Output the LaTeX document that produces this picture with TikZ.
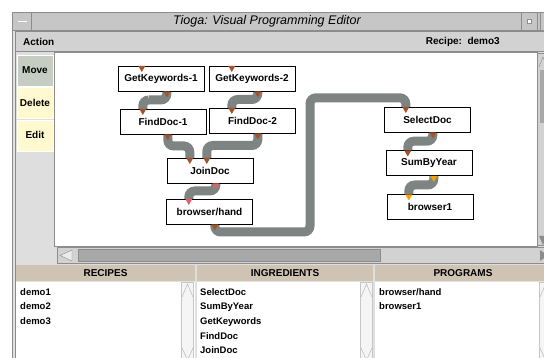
\documentclass[tikz,border=0pt]{standalone}
\usepackage{fontspec}
\setmainfont{Liberation Sans}
\usetikzlibrary{calc,positioning,shapes.geometric}
\definecolor{tiogapipe}{RGB}{126,132,130}
\definecolor{tiogabrown}{RGB}{164,84,44}
\definecolor{tiogapink}{RGB}{224,98,104}
\definecolor{tiogaorange}{RGB}{244,164,0}
\definecolor{tiogachrome}{RGB}{198,198,198}
\definecolor{tiogamenu}{RGB}{210,210,210}
\definecolor{tiogapanel}{RGB}{222,222,222}
\definecolor{tiogamove}{RGB}{197,205,194}
\definecolor{tiogayellow}{RGB}{255,249,208}
\definecolor{tiogatan}{RGB}{207,195,180}
\definecolor{tiogathumb}{RGB}{168,168,168}
\definecolor{tiogaedge}{RGB}{140,140,140}
\pgfdeclarelayer{chrome}
\pgfdeclarelayer{pipes}
\pgfsetlayers{chrome,pipes,main}
\tikzset{
  opbox/.style={draw=black, fill=white, minimum width=86pt, minimum height=25pt,
    inner sep=0pt, font=\bfseries\fontsize{10}{12}\selectfont},
  portmark/.style={regular polygon, regular polygon sides=3, shape border rotate=180,
    minimum size=8pt, inner sep=0pt, fill=#1, anchor=north},
  portmark/.default=tiogabrown,
  pipe/.style={draw=tiogapipe, line width=9pt, rounded corners=6pt},
  bendpipe/.style={to path={|- ($(\tikztostart)!.5!(\tikztotarget)$) -| (\tikztotarget)}},
  toolbtn/.style={draw=white, minimum width=36pt, minimum height=31pt, inner sep=0pt,
    font=\bfseries\fontsize{10}{12}\selectfont},
  listhead/.style={fill=tiogatan, minimum height=16pt, inner sep=0pt,
    font=\bfseries\fontsize{10}{12}\selectfont},
  listitem/.style={inner xsep=0pt, inner ysep=2pt, text height=8pt, text depth=2.2pt,
    anchor=north west, font=\bfseries\fontsize{9.5}{11}\selectfont},
  menulabel/.style={inner sep=0pt, font=\bfseries\fontsize{10}{12}\selectfont}
}

\begin{document}
\begin{tikzpicture}[x=1pt, y=-1pt]
  \useasboundingbox (0,0) rectangle (544,358);

  % window chrome
  \begin{pgfonlayer}{chrome}
    \fill[white] (0,0) rectangle (544,358);
    \fill[tiogapanel] (12,12) rectangle (544,358);
    \draw[tiogaedge] (12.5,12) -- (12.5,358) (15.5,31) -- (15.5,358);
    \draw[tiogaedge, fill=tiogachrome] (12.5,12.5) rectangle (550,30.5);
    \draw[tiogaedge] (31.5,12.5) -- (31.5,30.5) (521.5,12.5) -- (521.5,30.5)
      (537.5,12.5) -- (537.5,30.5) (540.5,12.5) -- (540.5,30.5);
    \draw[white, line width=1.5pt] (18,21.5) -- (27,21.5);
    \draw[tiogaedge, fill=white] (527.5,19.5) rectangle (531.5,23.5);
    \draw[tiogaedge, fill=tiogamenu] (15.5,31.5) rectangle (550,51.5);
    \draw[tiogaedge, fill=white] (54.5,52.5) rectangle (537.5,246);
    % scrollbars of the canvas
    \draw[tiogaedge, fill=tiogamenu] (537.5,53.5) rectangle (550,245.5);
    \draw[tiogaedge] (539,67) -- (543,57) -- (547,67);
    \fill[tiogathumb] (540,70) rectangle (550,123);
    \fill[tiogaedge] (539,236) -- (543,245) -- (547,236) -- cycle;
    \draw[tiogaedge, fill=tiogamenu] (57.5,247.5) rectangle (550,263.5);
    \draw[tiogaedge, fill=white!92!black] (72,250) -- (60,255.5) -- (72,261) -- cycle;
    \draw[tiogaedge, fill=tiogathumb] (78.5,249.5) rectangle (380.5,261.5);
    \fill[tiogaedge] (540,250) -- (548,255.5) -- (540,261) -- cycle;
    % list panes
    \fill[white] (16,282) rectangle (195,358) (197,282) rectangle (373,358)
      (375,282) rectangle (550,358);
    \foreach \sx in {181.5,360.5,539.5} {
      \draw[tiogaedge!50, fill=white!96!black] (\sx,282) rectangle ++(12,80);
      \draw[tiogaedge!70] (\sx+0.5,297) -- (\sx+6,284) -- (\sx+11.5,297);
      \draw[tiogaedge!70] (\sx+0.5,348) -- (\sx+6,360) -- (\sx+11.5,348);
    }
  \end{pgfonlayer}

  \node[font=\itshape\fontsize{12.5}{14}\selectfont, inner sep=0pt] (title) at (267,21)
    {Tioga: Visual Programming Editor};
  \node[menulabel, anchor=west] (action) at (23,42) {Action};
  \node[menulabel, anchor=east] (recipe) at (500,42) {Recipe:\ \ demo3};

  \node[toolbtn, fill=tiogamove] (move) at (35,70.5) {Move};
  \node[toolbtn, fill=tiogayellow, below=1pt of move] (delete) {Delete};
  \node[toolbtn, fill=tiogayellow, below=1pt of delete] (edit) {Edit};

  % program graph
  \node[opbox] (gk1) at (161,78.5) {GetKeywords-1};
  \node[opbox] (gk2) at (252,78.5) {GetKeywords-2};
  \node[opbox] (fd1) at (163,121.5) {FindDoc-1};
  \node[opbox] (fd2) at (252.5,120.5) {FindDoc-2};
  \node[opbox] (jd) at (210,170.5) {JoinDoc};
  \node[opbox] (bh) at (209.5,211.5) {browser/hand};
  \node[opbox] (sd) at (427.5,119.5) {SelectDoc};
  \node[opbox] (sy) at (429,163) {SumByYear};
  \node[opbox] (b1) at (430,207) {browser1};

  \node[portmark] (gk1in) at ([xshift=24pt]gk1.north west) {};
  \node[portmark] (gk1out) at ([xshift=49pt]gk1.south west) {};
  \node[portmark] (gk2in) at ([xshift=23pt]gk2.north west) {};
  \node[portmark] (gk2out) at ([xshift=49pt]gk2.south west) {};
  \node[portmark] (fd1in) at ([xshift=23pt]fd1.north west) {};
  \node[portmark] (fd1out) at ([xshift=48pt]fd1.south west) {};
  \node[portmark] (fd2in) at ([xshift=22.5pt]fd2.north west) {};
  \node[portmark] (fd2out) at ([xshift=48.5pt]fd2.south west) {};
  \node[portmark] (jdinA) at ([xshift=23pt]jd.north west) {};
  \node[portmark] (jdinB) at ([xshift=40pt]jd.north west) {};
  \node[portmark=tiogapink] (jdout) at ([xshift=49pt]jd.south west) {};
  \node[portmark=tiogapink] (bhin) at ([xshift=22.5pt]bh.north west) {};
  \node[portmark] (bhout) at ([xshift=48.5pt]bh.south west) {};
  \node[portmark] (sdin) at ([xshift=21.5pt]sd.north west) {};
  \node[portmark] (sdout) at ([xshift=48.5pt]sd.south west) {};
  \node[portmark] (syin) at ([xshift=22pt]sy.north west) {};
  \node[portmark=tiogaorange] (syout) at ([xshift=48pt]sy.south west) {};
  \node[portmark=tiogaorange] (b1in) at ([xshift=22pt]b1.north west) {};

  \begin{pgfonlayer}{pipes}
    \draw[pipe] (gk1out.north) to[bendpipe] (fd1in.north);
    \draw[pipe] (gk2out.north) to[bendpipe] (fd2in.north);
    \draw[pipe] (fd1out.north) to[bendpipe] (jdinA.north);
    \draw[pipe] (fd2out.north) to[bendpipe] (jdinB.north);
    \draw[pipe] (jdout.north) to[bendpipe] (bhin.north);
    \draw[pipe] (bhout.north) |- (310,232) |- ([yshift=9pt]sdin.north) -- (sdin.north);
    \draw[pipe] (sdout.north) to[bendpipe] (syin.north);
    \draw[pipe] (syout.north) to[bendpipe] (b1in.north);
  \end{pgfonlayer}

  % recipe, ingredient and program lists
  \node[listhead, minimum width=179pt] (recipes) at (105.5,273.5) {RECIPES};
  \node[listhead, minimum width=176pt] (ingredients) at (285,273.5) {INGREDIENTS};
  \node[listhead, minimum width=176pt] (programs) at (463,273.5) {PROGRAMS};

  \node[listitem] (demo1) at (20,285) {demo1};
  \node[listitem] (demo2) at (demo1.south west) {demo2};
  \node[listitem] (demo3) at (demo2.south west) {demo3};

  \node[listitem] (selectdoc) at (200,285) {SelectDoc};
  \node[listitem] (sumbyyear) at (selectdoc.south west) {SumByYear};
  \node[listitem] (getkeywords) at (sumbyyear.south west) {GetKeywords};
  \node[listitem] (finddoc) at (getkeywords.south west) {FindDoc};
  \node[listitem] (joindoc) at (finddoc.south west) {JoinDoc};

  \node[listitem] (browserhand) at (379,285) {browser/hand};
  \node[listitem] (browserone) at (browserhand.south west) {browser1};
\end{tikzpicture}
\end{document}
